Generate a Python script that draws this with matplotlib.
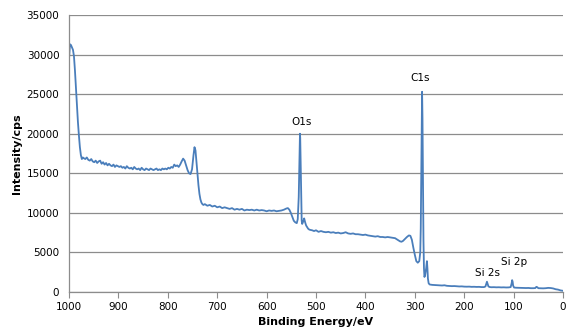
import matplotlib
matplotlib.use("Agg")
import matplotlib.pyplot as plt

# XPS survey spectrum
energy = [
    1000, 998, 996, 994, 992, 990, 988, 986, 984, 982, 980, 978, 976, 974, 972,
    970, 967, 964, 961, 958, 955, 952, 949, 946, 943, 940, 937, 934, 931, 928,
    925, 922, 919, 916, 913, 910, 907, 904, 901, 898, 895, 892, 889, 886, 883,
    880, 877, 874, 871, 868, 865, 862, 859, 856, 853, 850, 847, 844, 841, 838,
    835, 832, 829, 826, 823, 820, 817, 814, 811, 808, 805, 802, 799, 796, 793,
    790, 787, 784, 781, 778, 775, 772, 769, 766, 763, 760, 757, 754, 751, 748,
    746, 744, 742, 740, 738, 736, 734, 732, 730, 728,
    725, 720, 715, 710, 705, 700, 695, 690, 685, 680, 675, 670, 665, 660, 655,
    650, 645, 640, 635, 630, 625, 620, 615, 610, 605, 600, 595, 590, 585, 580,
    575, 570, 565, 560, 557, 554, 551, 548, 545, 542, 539, 537, 535, 534, 533,
    532.5, 532, 531, 530, 529, 528, 526, 524, 522, 520, 518, 516, 514, 512, 508,
    504, 500, 495, 490, 485, 480, 475, 470, 465, 460, 455, 450, 445, 440, 435,
    430, 425, 420, 415, 410, 405, 400, 395, 390, 385, 380, 375, 370, 365, 360,
    355, 350, 345, 340, 335, 330, 327, 324, 320, 316, 312, 309, 306, 303, 300,
    297, 294, 291, 289, 288, 287, 286, 285.3, 284.5, 283.5, 282.5, 281.5, 280.5,
    279, 277, 275.5, 274.5, 273.5, 272, 270, 265, 260, 255, 250, 245, 240, 235,
    230, 225, 220, 215, 210, 205, 200, 195, 190, 185, 180, 175, 170, 165, 160,
    157, 155, 154, 153, 151, 148, 145, 140, 135, 130, 125, 120, 115, 110, 106,
    104, 103, 102, 101, 99, 95, 90, 85, 80, 75, 70, 65, 60, 56, 54, 52, 50, 45,
    40, 35, 30, 25, 20, 15, 10, 5, 0,
]
intensity = [
    29500, 31300, 31200, 30900, 30600, 29800, 28000, 25800, 23500, 21500, 19800,
    18300, 17300, 16800, 17000,
    16900, 16800, 17000, 16700, 16600, 16800, 16500, 16400, 16600, 16300, 16500,
    16600, 16200, 16400, 16100,
    16300, 16000, 16200, 16000, 15900, 16100, 15800, 16000, 15900, 15800, 15900,
    15700, 15800, 15600, 15900,
    15700, 15600, 15700, 15500, 15800, 15600, 15500, 15600, 15400, 15700, 15500,
    15400, 15600, 15500, 15400,
    15600, 15500, 15400, 15500, 15600, 15400, 15500, 15400, 15600, 15500, 15600,
    15500, 15700, 15600, 15800,
    15700, 16100, 15900, 16000, 15800, 16100, 16500, 16850, 16600, 16000, 15400,
    15000, 14900, 15500, 17300,
    18300, 17900, 16400, 14800, 13500, 12400, 11700, 11300, 11100, 11000,
    11100, 10900, 11000, 10800, 10900, 10700, 10800, 10600, 10700, 10600, 10500,
    10600, 10400, 10500, 10400,
    10500, 10300, 10400, 10350, 10400, 10300, 10400, 10300, 10350, 10300, 10200,
    10300, 10250, 10300, 10200,
    10250, 10300, 10400, 10550, 10600, 10400, 10000, 9500, 9000, 8800, 8700,
    9200, 12000, 15500, 19000,
    20000, 19500, 16000, 12000, 9000, 8600, 8900, 9300, 8800, 8400, 8200, 8000,
    7900, 7850, 7800,
    7700, 7800, 7600, 7700, 7600, 7550, 7600, 7500, 7550, 7450, 7500, 7400,
    7450, 7550, 7400,
    7350, 7400, 7300, 7300, 7250, 7200, 7250, 7150, 7100, 7050, 7000, 7050,
    6950, 6950, 6900,
    6950, 6900, 6850, 6800, 6600, 6400, 6350, 6450, 6700, 6950, 7150, 7100,
    6600, 5600, 4700,
    3900, 3700, 3900, 5000, 8000, 14000, 21000, 25300, 22000, 14000, 6500, 3000,
    1900,
    2200, 3000, 3900, 3000, 1700, 1100, 950, 900, 880, 860, 850, 820, 850, 780,
    760, 740, 750, 720, 700, 710, 680, 670, 680, 650, 660, 640, 650, 620, 620,
    700, 1100, 1300, 1100, 700, 620, 600, 610, 590, 600, 580, 590, 570, 580, 620,
    1100, 1500, 1300, 800, 560, 540, 530, 520, 510, 500, 510, 480, 480, 500, 650,
    600, 480, 470,
    460, 480, 520, 500, 450, 350, 300, 200, 150,
]

peak_labels = ["O1s", "C1s", "Si 2s", "Si 2p"]
label_x = [530, 289, 152, 99]
label_y = [21500, 27000, 2450, 3830]

fig = plt.figure(figsize=(5.69, 3.32), dpi=100)
ax = fig.add_axes([0.1213, 0.1205, 0.8682, 0.8343])

ax.plot(energy, intensity, color="#4a7ebb", linewidth=1.3)

for lab, lx, ly in zip(peak_labels, label_x, label_y):
    ax.text(lx, ly, lab, ha="center", va="center", fontsize=7.5)

ax.set_xlim(1000, 0)
ax.set_ylim(0, 35000)
ax.set_xticks(range(1000, -1, -100))
ax.set_yticks(range(0, 35001, 5000))
ax.yaxis.grid(True, color="#8c8c8c", linewidth=0.9)
ax.set_axisbelow(True)

for side in ["top", "right"]:
    ax.spines[side].set_visible(False)
for side in ["left", "bottom"]:
    ax.spines[side].set_color("#8c8c8c")
    ax.spines[side].set_linewidth(0.9)

ax.tick_params(axis="x", direction="out", length=4, color="#8c8c8c", labelsize=7.5, pad=3)
ax.tick_params(axis="y", length=0, labelsize=7.5, pad=7)

ax.set_xlabel("Binding Energy/eV", fontsize=8, fontweight="bold", labelpad=4)
ax.set_ylabel("Intensity/cps", fontsize=8, fontweight="bold", labelpad=3)

fig.savefig("out.png", dpi=100)
plt.close(fig)
